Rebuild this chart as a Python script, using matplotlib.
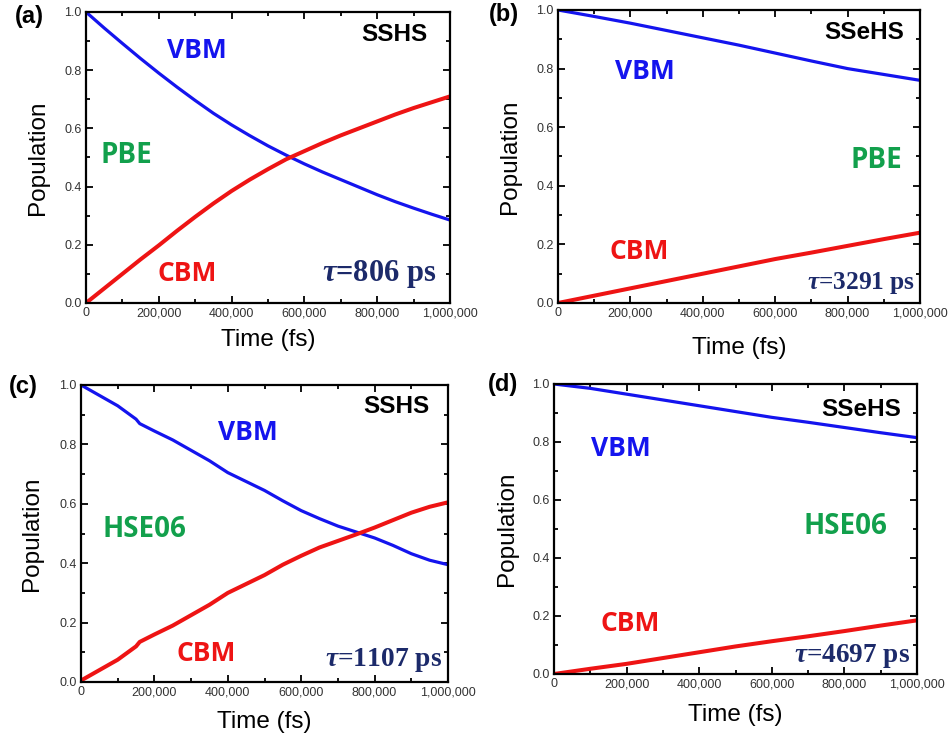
import numpy as np
import matplotlib
matplotlib.use('Agg')
import matplotlib.pyplot as plt
from matplotlib.ticker import FuncFormatter, MultipleLocator

plt.rcParams['font.family'] = ['Liberation Sans', 'DejaVu Sans']
plt.rcParams['mathtext.fontset'] = 'custom'
plt.rcParams['mathtext.it'] = 'Liberation Serif:italic:bold'
plt.rcParams['mathtext.rm'] = 'Liberation Serif:bold'

# data (time in fs)
t_fine = [0, 50e3, 100e3, 150e3, 200e3, 250e3, 300e3, 350e3, 400e3, 450e3, 500e3,
          550e3, 600e3, 650e3, 700e3, 750e3, 800e3, 850e3, 900e3, 950e3, 1000e3]
t_c = [0, 50e3, 100e3, 150e3, 160e3, 200e3, 250e3, 300e3, 350e3, 400e3, 450e3, 500e3,
       550e3, 600e3, 650e3, 700e3, 750e3, 800e3, 850e3, 900e3, 950e3, 1000e3]
t_coarse = [0, 100e3, 200e3, 300e3, 400e3, 500e3, 600e3, 700e3, 800e3, 900e3, 1000e3]

vbm_a = [1.0, 0.945, 0.892, 0.84, 0.79, 0.742, 0.696, 0.652, 0.612, 0.575, 0.54,
         0.508, 0.478, 0.45, 0.424, 0.398, 0.372, 0.348, 0.326, 0.305, 0.285]
cbm_a = [0.0, 0.05, 0.10, 0.15, 0.198, 0.248, 0.296, 0.342, 0.385, 0.424, 0.46,
         0.494, 0.522, 0.55, 0.576, 0.60, 0.624, 0.648, 0.67, 0.69, 0.71]

vbm_b = [1.0, 0.978, 0.955, 0.93, 0.905, 0.88, 0.853, 0.826, 0.80, 0.78, 0.76]
cbm_b = [0.0, 0.025, 0.05, 0.075, 0.10, 0.125, 0.15, 0.172, 0.195, 0.218, 0.24]

vbm_c = [1.0, 0.965, 0.93, 0.885, 0.87, 0.845, 0.815, 0.78, 0.745, 0.705, 0.675, 0.645,
         0.61, 0.577, 0.55, 0.525, 0.505, 0.485, 0.46, 0.432, 0.41, 0.395]
cbm_c = [0.005, 0.04, 0.075, 0.12, 0.135, 0.16, 0.19, 0.225, 0.26, 0.30, 0.33, 0.36,
         0.395, 0.425, 0.453, 0.475, 0.497, 0.52, 0.545, 0.57, 0.59, 0.605]

vbm_d = [1.0, 0.985, 0.965, 0.945, 0.925, 0.905, 0.885, 0.868, 0.85, 0.832, 0.815]
cbm_d = [0.0, 0.018, 0.035, 0.055, 0.075, 0.095, 0.113, 0.13, 0.148, 0.167, 0.185]

BLUE = '#1414ee'
RED = '#ee1414'
GREEN = '#12a04c'
NAVY = '#1c2a6a'

W, H = 949, 740
fig = plt.figure(figsize=(W / 100, H / 100), dpi=100)

def px_axes(left, top, right, bottom):
    return fig.add_axes([left / W, 1 - bottom / H, (right - left) / W, (bottom - top) / H])

panels = [
    dict(box=(86, 12, 450, 303), tag='(a)', tagpos=(29, 17), t=t_fine, v=vbm_a, c=cbm_a,
         method='PBE', system='SSHS', tau='806', tausize=22,
         pos=dict(vbm=(304e3, 0.866), method=(110e3, 0.507), cbm=(278e3, 0.103),
                  system=(846e3, 0.922), tau=(806e3, 0.098)), ylx=-0.132, xly=-0.127),
    dict(box=(558, 10, 920, 303), tag='(b)', tagpos=(504, 15), t=t_coarse, v=vbm_b, c=cbm_b,
         method='PBE', system='SSeHS', tau='3291', tausize=18.3,
         pos=dict(vbm=(241e3, 0.79), method=(880e3, 0.486), cbm=(224e3, 0.176),
                  system=(846e3, 0.924), tau=(837e3, 0.068)), ylx=-0.133, xly=-0.154),
    dict(box=(81, 385, 448, 682), tag='(c)', tagpos=(23, 387), t=t_c, v=vbm_c, c=cbm_c,
         method='HSE06', system='SSHS', tau='1107', tausize=19.8,
         pos=dict(vbm=(456e3, 0.839), method=(172e3, 0.515), cbm=(340e3, 0.096),
                  system=(859e3, 0.927), tau=(823e3, 0.073)), ylx=-0.134, xly=-0.135),
    dict(box=(554, 384, 917, 674), tag='(d)', tagpos=(503, 385), t=t_coarse, v=vbm_d, c=cbm_d,
         method='HSE06', system='SSeHS', tau='4697', tausize=19.6,
         pos=dict(vbm=(183e3, 0.776), method=(804e3, 0.508), cbm=(211e3, 0.175),
                  system=(845e3, 0.913), tau=(821e3, 0.061)), ylx=-0.13, xly=-0.141),
]

def xfmt(v, _):
    return '0' if v == 0 else '{:,.0f}'.format(v)

for p in panels:
    ax = px_axes(*p['box'])
    ax.plot(p['t'], p['v'], color=BLUE, lw=2.3, solid_capstyle='butt')
    ax.plot(p['t'], p['c'], color=RED, lw=2.9, solid_capstyle='butt')
    ax.set_xlim(0, 1e6)
    ax.set_ylim(0, 1.0)
    ax.xaxis.set_major_locator(MultipleLocator(200e3))
    ax.xaxis.set_minor_locator(MultipleLocator(100e3))
    ax.yaxis.set_major_locator(MultipleLocator(0.2))
    ax.yaxis.set_minor_locator(MultipleLocator(0.1))
    ax.xaxis.set_major_formatter(FuncFormatter(xfmt))
    ax.yaxis.set_major_formatter(FuncFormatter(lambda v, _: '%.1f' % v))
    ax.tick_params(which='both', direction='in', top=True, right=True,
                   labelsize=9, labelcolor='#333333', width=1.3, pad=3)
    ax.tick_params(which='major', length=5)
    ax.tick_params(which='minor', length=3)
    for s in ax.spines.values():
        s.set_linewidth(1.6)
    ax.set_ylabel('Population', fontsize=17.5, va='center')
    ax.set_xlabel('Time (fs)', fontsize=17.5, va='center')
    ax.yaxis.set_label_coords(p['ylx'], 0.5)
    ax.xaxis.set_label_coords(0.5, p['xly'])

    pos = p['pos']
    ax.text(*pos['vbm'], 'VBM', color=BLUE, fontsize=19, fontweight='bold',
            family='Open Sans', ha='center', va='center')
    ax.text(*pos['cbm'], 'CBM', color=RED, fontsize=19, fontweight='bold',
            family='Open Sans', ha='center', va='center')
    ax.text(*pos['method'], p['method'], color=GREEN, fontsize=20, fontweight='bold',
            family='Open Sans', ha='center', va='center')
    ax.text(*pos['system'], p['system'], color='black', fontsize=17.5, fontweight='bold',
            ha='center', va='center')
    ax.text(*pos['tau'], r'$\tau$=' + p['tau'] + ' ps', color=NAVY, fontsize=p['tausize'],
            fontweight='bold', family='Liberation Serif', ha='center', va='center')

    fig.text(p['tagpos'][0] / W, 1 - p['tagpos'][1] / H, p['tag'], fontsize=17,
             fontweight='bold', ha='center', va='center')

fig.savefig('out.png', dpi=100)
